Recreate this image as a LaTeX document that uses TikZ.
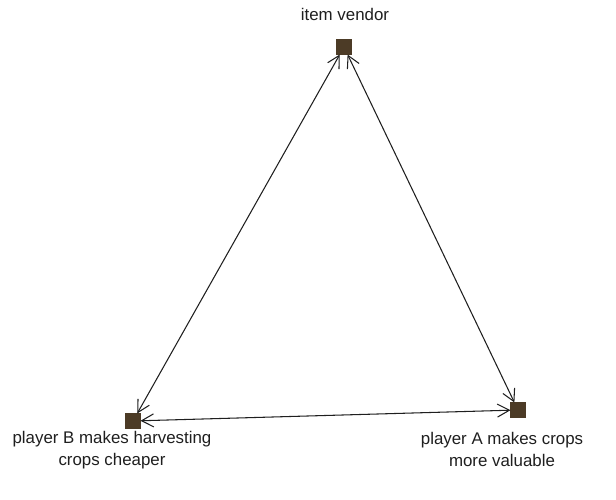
\documentclass[tikz,border=0pt]{standalone}
\usepackage{fontspec}
\setmainfont{Liberation Sans}
\usepackage{tikz}
\usetikzlibrary{positioning, arrows.meta}
\definecolor{boxbrown}{rgb}{0.30,0.23,0.15}
\definecolor{inkgray}{rgb}{0.12,0.12,0.12}
\tikzstyle{spot}=[%
      rectangle, draw=boxbrown, fill=boxbrown, inner sep=0pt,
      minimum height=0.28cm, minimum width=0.28cm
]
\tikzstyle{lbl}=[%
      text=inkgray, font=\fontsize{9.6}{12.5}\selectfont, align=center, inner sep=0pt
]

\begin{document}
\begin{tikzpicture}[auto,
    {Straight Barb[length=2.4mm,width=2.6mm]}-{Straight Barb[length=2.4mm,width=2.6mm]},
    line width=0.6pt, draw=inkgray
  ]
    \useasboundingbox (0,0) rectangle (12.32,10);
    \node[spot] (vendor)  at (6.88,9.06) {};
    \node[spot] (playerB) at (2.66,1.58) {};
    \node[spot] (playerA) at (10.36,1.80) {};

    \node[lbl] (vendortxt)  at (6.90,9.72) {item vendor};
    \node[lbl] (playerBtxt) at (2.24,1.00) {player B makes harvesting\\crops cheaper};
    \node[lbl] (playerAtxt) at (10.04,1.02) {player A makes crops\\more valuable};

    \path (vendor)  edge (playerB)
          (vendor)  edge (playerA)
          (playerB) edge (playerA)
    ;

  \end{tikzpicture}
\end{document}
